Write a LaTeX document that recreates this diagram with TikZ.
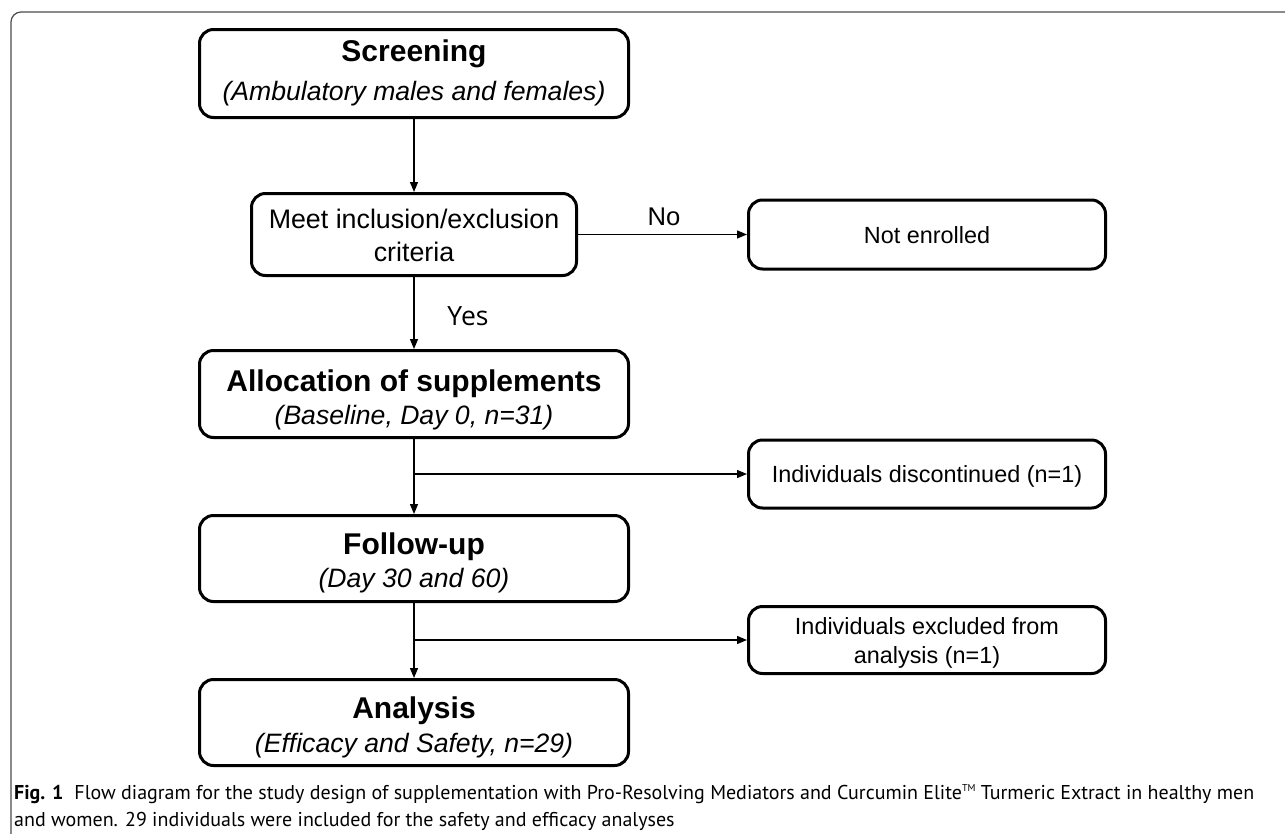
\documentclass[tikz,border=0pt]{standalone}
\usepackage{fontspec}
\setmainfont{Liberation Sans}
\newfontfamily\capfont{PT Sans}
\newfontfamily\yesfont{Open Sans}
\usetikzlibrary{arrows.meta}
\begin{document}
\begin{tikzpicture}[x=1pt,y=-1pt,
 box/.style={draw, line width=3pt, rounded corners=14pt, inner sep=0pt},
 arr/.style={line width=1.3pt, -{Triangle[length=10pt,width=8pt]}},
 boldtxt/.style={font=\fontsize{30}{36}\selectfont\bfseries, anchor=base, inner sep=0pt},
 itatxt/.style={font=\fontsize{26.6}{32}\selectfont\itshape, anchor=base, inner sep=0pt},
 regtxt/.style={font=\fontsize{26.8}{32}\selectfont, anchor=base, inner sep=0pt},
 smalltxt/.style={font=\fontsize{23.4}{28}\selectfont, anchor=base, inner sep=0pt},
 yestxt/.style={font=\yesfont\fontsize{26.5}{32}\selectfont, anchor=base, inner sep=0pt},
 captxt/.style={font=\capfont\fontsize{20}{27}\selectfont, anchor=base west, inner sep=0pt},
 frame/.style={draw=black!70, line width=1.2pt, rounded corners=10pt}
]
\useasboundingbox (0,0) rectangle (1285,833);
\fill[white] (0,0) rectangle (1285,833);
\draw[frame] (11,840) -- (11,12) -- (1290,12);

% main boxes
\node[box, minimum width=429pt, minimum height=88pt] (scr) at (414,73.5) {};
\node[box, minimum width=325pt, minimum height=82pt] (meet) at (414,234.5) {};
\node[box, minimum width=357pt, minimum height=69pt] (noten) at (927,234.5) {};
\node[box, minimum width=429pt, minimum height=87pt] (alloc) at (414,394) {};
\node[box, minimum width=357pt, minimum height=68pt] (disc) at (927,474) {};
\node[box, minimum width=429pt, minimum height=86pt] (fu) at (414,558.5) {};
\node[box, minimum width=357pt, minimum height=67pt] (excl) at (927,640) {};
\node[box, minimum width=429pt, minimum height=86pt] (ana) at (414,722.5) {};

% texts
\node[boldtxt] (scrA) at (414,61) {Screening};
\node[itatxt] (scrB) at (414,100) {(Ambulatory males and females)};
\node[regtxt] (meetA) at (414,228) {Meet inclusion/exclusion};
\node[regtxt] (meetB) at (414,261) {criteria};
\node[smalltxt] (notenA) at (927,243) {Not enrolled};
\node[boldtxt] (allocA) at (414,391) {Allocation of supplements};
\node[itatxt] (allocB) at (414,424) {(Baseline, Day 0, n=31)};
\node[smalltxt] (discA) at (927,482) {Individuals discontinued (n=1)};
\node[boldtxt] (fuA) at (414,554) {Follow-up};
\node[itatxt] (fuB) at (414,587) {(Day 30 and 60)};
\node[smalltxt] (exclA) at (927,634) {Individuals excluded from};
\node[smalltxt] (exclB) at (927,663) {analysis (n=1)};
\node[boldtxt] (anaA) at (414,718) {Analysis};
\node[itatxt] (anaB) at (414,752) {(Efficacy and Safety, n=29)};

% labels
\node[font=\fontsize{25.6}{30}\selectfont, anchor=base, inner sep=0pt] (no) at (664,225) {No};
\node[yestxt] (yes) at (468,325) {Yes};

% connectors
\draw[arr] (scr.south) -- (meet.north);
\draw[arr] (meet.east) -- (noten.west);
\draw[arr] (meet.south) -- (alloc.north);
\draw[arr] (alloc.south) -- (fu.north);
\draw[arr] (alloc.south |- disc.west) -- (disc.west);
\draw[arr] (fu.south) -- (ana.north);
\draw[arr] (fu.south |- excl.west) -- (excl.west);

% caption
\node[captxt] (cap1) at (14,799) {\textbf{Fig. 1}\hspace{0.55em}Flow diagram for the study design of supplementation with Pro-Resolving Mediators and Curcumin Elite\raisebox{0.75ex}{\fontsize{10}{10}\selectfont TM} Turmeric Extract in healthy men};
\node[captxt] (cap2) at (14,826) {and women. 29 individuals were included for the safety and efficacy analyses};
\end{tikzpicture}
\end{document}
